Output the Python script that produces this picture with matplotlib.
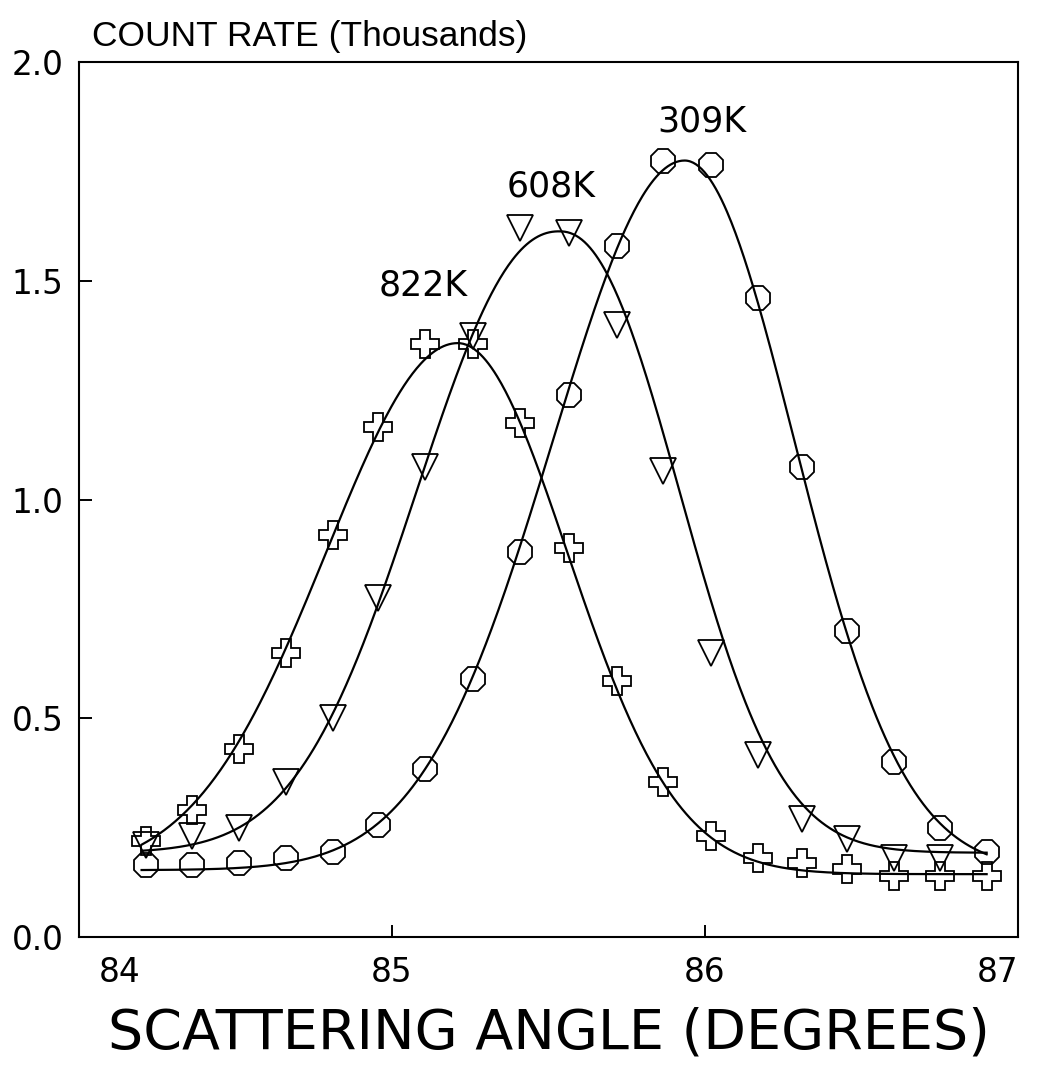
import numpy as np
import matplotlib
matplotlib.use("Agg")
import matplotlib.pyplot as plt
import matplotlib.transforms as mtransforms

angle = [84.215, 84.36, 84.51, 84.66, 84.81, 84.955, 85.105, 85.26, 85.41, 85.565,
         85.72, 85.865, 86.02, 86.17, 86.31, 86.455, 86.605, 86.75, 86.90]

# count rate (thousands)
rate_822 = [0.22, 0.29, 0.43, 0.65, 0.92, 1.165, 1.355, 1.355, 1.175, 0.89,
            0.585, 0.355, 0.23, 0.18, 0.17, 0.155, 0.14, 0.14, 0.14]
rate_608 = [0.21, 0.23, 0.25, 0.355, 0.50, 0.775, 1.075, 1.375, 1.62, 1.61,
            1.40, 1.065, 0.65, 0.415, 0.27, 0.225, 0.18, 0.18]
rate_309 = [0.165, 0.165, 0.17, 0.18, 0.195, 0.255, 0.385, 0.59, 0.88, 1.24,
            1.58, 1.775, 1.765, 1.46, 1.075, 0.70, 0.40, 0.25, 0.195]

# points (angle, rate)
curve_822_x = [84.2, 84.35, 84.5, 84.65, 84.8, 84.95, 85.1, 85.2, 85.3, 85.4,
               85.55, 85.7, 85.85, 86.0, 86.15, 86.3, 86.6, 86.9]
curve_822_y = [0.215, 0.285, 0.42, 0.64, 0.905, 1.15, 1.315, 1.345, 1.325, 1.2,
               0.905, 0.59, 0.365, 0.24, 0.185, 0.16, 0.148, 0.145]
curve_608_x = [84.2, 84.35, 84.5, 84.65, 84.8, 84.95, 85.1, 85.25, 85.4, 85.5,
               85.6, 85.75, 85.9, 86.05, 86.2, 86.35, 86.5, 86.75, 86.9]
curve_608_y = [0.195, 0.215, 0.255, 0.34, 0.49, 0.76, 1.07, 1.37, 1.57, 1.60,
               1.585, 1.42, 1.08, 0.67, 0.42, 0.29, 0.225, 0.18, 0.175]
curve_309_x = [84.2, 84.5, 84.8, 84.95, 85.1, 85.25, 85.4, 85.55, 85.7, 85.85,
               85.95, 86.05, 86.15, 86.3, 86.45, 86.6, 86.75, 86.9]
curve_309_y = [0.165, 0.168, 0.19, 0.245, 0.37, 0.58, 0.87, 1.22, 1.55, 1.73,
               1.755, 1.74, 1.47, 1.09, 0.71, 0.42, 0.26, 0.19]

labels = ["822K", "608K", "309K"]
label_pos = [(85.10, 1.49), (85.51, 1.715), (85.99, 1.865)]

FONT = "DejaVu Sans"


def peak_shape(x, mu, sl, sr, p):
    s = np.where(x < mu, sl, sr)
    return np.exp(-0.5 * np.abs((x - mu) / s) ** p)


def fit_peak(x, y):
    # split peak on a flat background, brute force search
    x = np.asarray(x)
    y = np.asarray(y)
    ym = y.mean()
    x0 = x[np.argmax(y)]
    sl = np.linspace(0.2, 0.8, 61)[:, None, None]
    sr = np.linspace(0.2, 0.8, 61)[None, :, None]
    best = None
    for p in np.arange(1.6, 4.01, 0.2):
        for mu in np.arange(x0 - 0.25, x0 + 0.25, 0.005):
            g = peak_shape(x, mu, sl, sr, p)
            gm = g.mean(axis=2, keepdims=True)
            amp = ((g - gm) * (y - ym)).sum(axis=2, keepdims=True) / ((g - gm) ** 2).sum(axis=2, keepdims=True)
            base = ym - amp * gm
            err = ((base + amp * g - y) ** 2).sum(axis=2)
            i, j = np.unravel_index(np.argmin(err), err.shape)
            if best is None or err[i, j] < best[0]:
                best = (err[i, j], mu, sl[i, 0, 0], sr[0, j, 0], p, amp[i, j, 0], base[i, j, 0])
    return best[1:]


def main():
    fig = plt.figure(figsize=(10.45, 10.84), dpi=100)
    ax = fig.add_axes([0.0756, 0.1356, 0.8985, 0.8070])

    series = [
        (angle, rate_822, curve_822_x, curve_822_y, "P", 20),
        (angle[:len(rate_608)], rate_608, curve_608_x, curve_608_y, "v", 19),
        (angle, rate_309, curve_309_x, curve_309_y, "8", 18.5),
    ]
    for xs, ys, cx, cy, mk, ms in series:
        mu, sl, sr, p, amp, base = fit_peak(cx, cy)
        xx = np.linspace(cx[0], cx[-1], 600)
        ax.plot(xx, base + amp * peak_shape(xx, mu, sl, sr, p), color="black", lw=1.6)
        ax.plot(xs, ys, linestyle="none", marker=mk, markersize=ms,
                markerfacecolor="none", markeredgecolor="black", markeredgewidth=1.3)

    for txt, (tx, ty) in zip(labels, label_pos):
        ax.text(tx, ty, txt, ha="center", va="center", fontsize=25, family=FONT)

    ax.set_xlim(84, 87)
    ax.set_ylim(0, 2.0)
    ax.set_xticks([84, 85, 86, 87])
    ax.set_xticklabels(["84", "85", "86", "87"], fontsize=23.5, family=FONT)
    ax.set_yticks([0, 0.5, 1.0, 1.5, 2.0])
    ax.set_yticklabels(["0.0", "0.5", "1.0", "1.5", "2.0"], fontsize=23.5, family=FONT)
    ax.tick_params(direction="in", length=9, width=1.4, pad=11)
    ax.tick_params(axis="x", pad=14)
    for s in ax.spines.values():
        s.set_linewidth(1.5)

    # end labels sit inside the axis ends
    xl = ax.get_xticklabels()
    xl[0].set_ha("left")
    xl[0].set_transform(xl[0].get_transform() + mtransforms.ScaledTranslation(0.2, 0, fig.dpi_scale_trans))
    xl[-1].set_ha("right")

    ax.set_xlabel("SCATTERING ANGLE (DEGREES)", fontsize=40, family=FONT, labelpad=12)
    fig.text(0.088, 0.958, "COUNT RATE (Thousands)", fontsize=25.5, family="Liberation Sans",
             ha="left", va="baseline")

    fig.savefig("out.png", dpi=100)


if __name__ == "__main__":
    main()
